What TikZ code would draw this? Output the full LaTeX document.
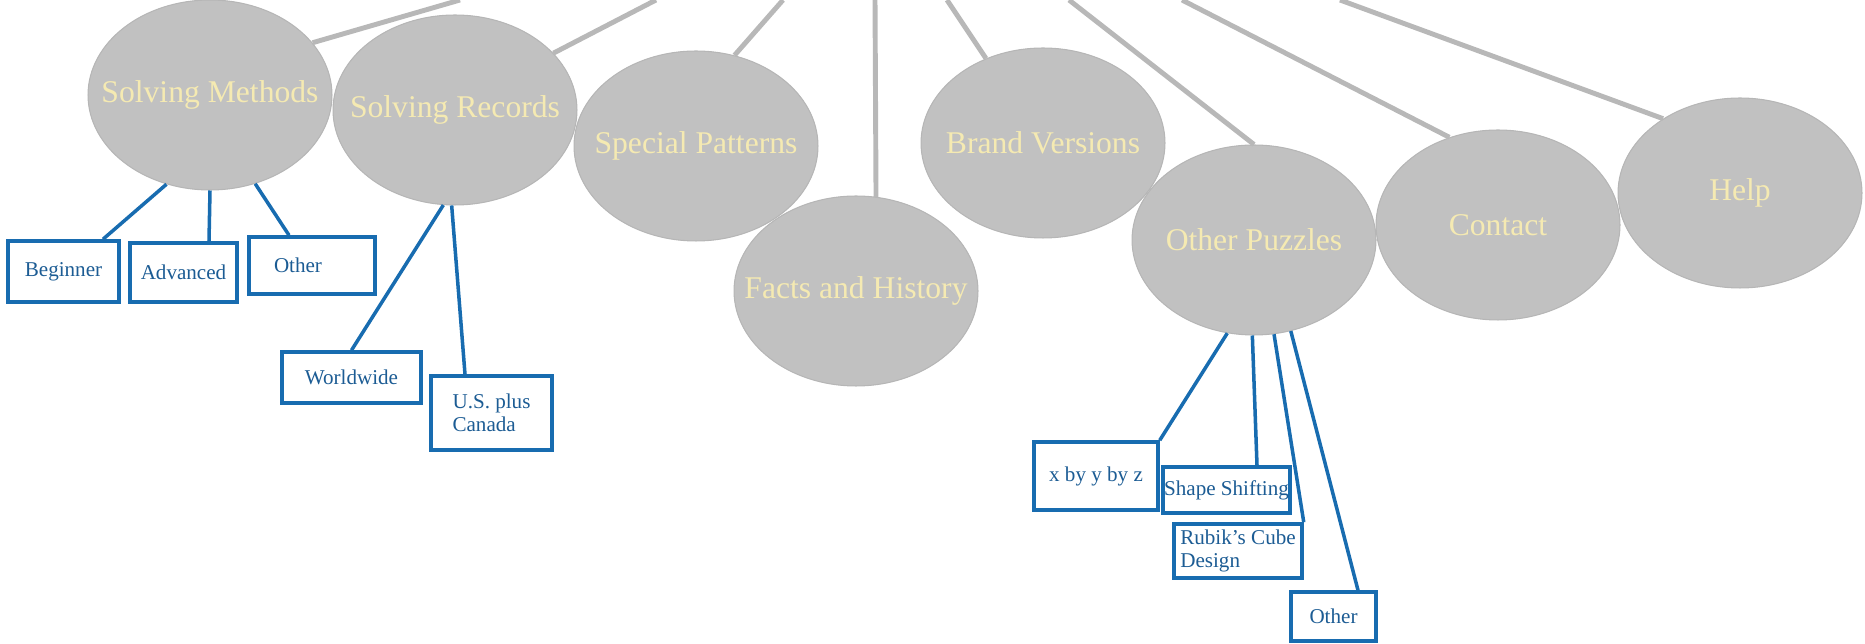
\documentclass[tikz,border=0pt]{standalone}
\usepackage{fontspec}
\setmainfont{Liberation Serif}
\usetikzlibrary{shapes.geometric,positioning}

\definecolor{bubble}{RGB}{193,193,193}
\definecolor{bubbleline}{RGB}{182,182,182}
\definecolor{caption}{RGB}{245,234,178}
\definecolor{spoke}{RGB}{184,184,184}
\definecolor{leafline}{RGB}{24,108,176}
\definecolor{leaftext}{RGB}{28,92,148}

\begin{document}
\begin{tikzpicture}[x=0.02cm,y=-0.02cm]
	\tikzset{topic/.style={ellipse,fill=bubble,draw=bubbleline,line width=0.6pt,minimum width=4.88cm,minimum height=3.8cm,inner sep=0pt,
		label={[text=caption,font=\fontsize{18}{21}\selectfont]center:#1}}}
	\tikzset{leaf/.style={draw=leafline,line width=2pt,fill=white,text=leaftext,align=left,inner sep=0pt,font=\fontsize{12}{13}\selectfont}}
	\useasboundingbox (0,0) rectangle (1865,644);

	%% Spokes coming down from the top edge
	\coordinate (t1) at (460,0);
	\coordinate (t2) at (656,0);
	\coordinate (t3) at (783,0);
	\coordinate (t4) at (875,0);
	\coordinate (t5) at (947,0);
	\coordinate (t6) at (1069,0);
	\coordinate (t7) at (1182,0);
	\coordinate (t8) at (1340,0);

	%% Main topics
	\node[topic=Solving Methods] (sm) at (210,95) {};
	\node[topic=Solving Records] (sr) at (455,110) {};
	\node[topic=Special Patterns] (sp) at (696,146) {};
	\node[topic=Facts and History] (fh) at (856,291) {};
	\node[topic=Brand Versions] (bv) at (1043,143) {};
	\node[topic=Other Puzzles] (op) at (1254,240) {};
	\node[topic=Contact] (ct) at (1498,225) {};
	\node[topic=Help] (hp) at (1740,193) {};
	\path[draw=spoke,line width=2.8pt]
		(t1) edge (sm.27.5)
		(t2) edge (sr.30.4)
		(t3) edge (sp.67.3)
		(t4) edge (fh.78.8)
		(t5) edge (bv.124.3)
		(t6) edge (op.north)
		(t7) edge (ct.119.1)
		(t8) edge (hp.136.5);

	%% Sub-pages
	\node[leaf,minimum width=2.22cm,minimum height=1.22cm] (beg) at (63.5,271.5) {Beginner};
	\node[leaf,minimum width=2.14cm,minimum height=1.18cm] (adv) at (183.5,272.5) {Advanced};
	\node[leaf,minimum width=2.52cm,minimum height=1.14cm,text width=1.52cm] (oth) at (312,265.5) {Other};
	\node[leaf,minimum width=2.78cm,minimum height=1.02cm] (ww) at (351.5,377.5) {Worldwide};
	\node[leaf,minimum width=2.42cm,minimum height=1.48cm] (us) at (491.5,413) {U.S. plus\\Canada};
	\node[leaf,minimum width=2.48cm,minimum height=1.36cm] (xyz) at (1096,476) {x by y by z};
	\node[leaf,minimum width=2.54cm,minimum height=0.92cm] (shp) at (1226.5,490) {Shape Shifting};
	\node[leaf,minimum width=2.56cm,minimum height=1.08cm] (rub) at (1238,551) {Rubik's Cube\\Design};
	\node[leaf,minimum width=1.70cm,minimum height=0.98cm] (oth2) at (1333.5,616.5) {Other};
	\path[draw=leafline,line width=2pt]
		(sm.-116) edge ([xshift=0.79cm]beg.north)
		(sm.south) edge ([xshift=0.51cm]adv.north)
		(sm.-63) edge ([xshift=-0.46cm]oth.north)
		(sr.-97) edge (ww.north)
		(sr.-92) edge ([xshift=-0.53cm]us.north)
		(op.-106) edge (xyz.north east)
		(op.-91) edge ([xshift=0.61cm]shp.north)
		(op.-78) edge (rub.north east)
		(op.-68) edge ([xshift=0.49cm]oth2.north);
\end{tikzpicture}
\end{document}
